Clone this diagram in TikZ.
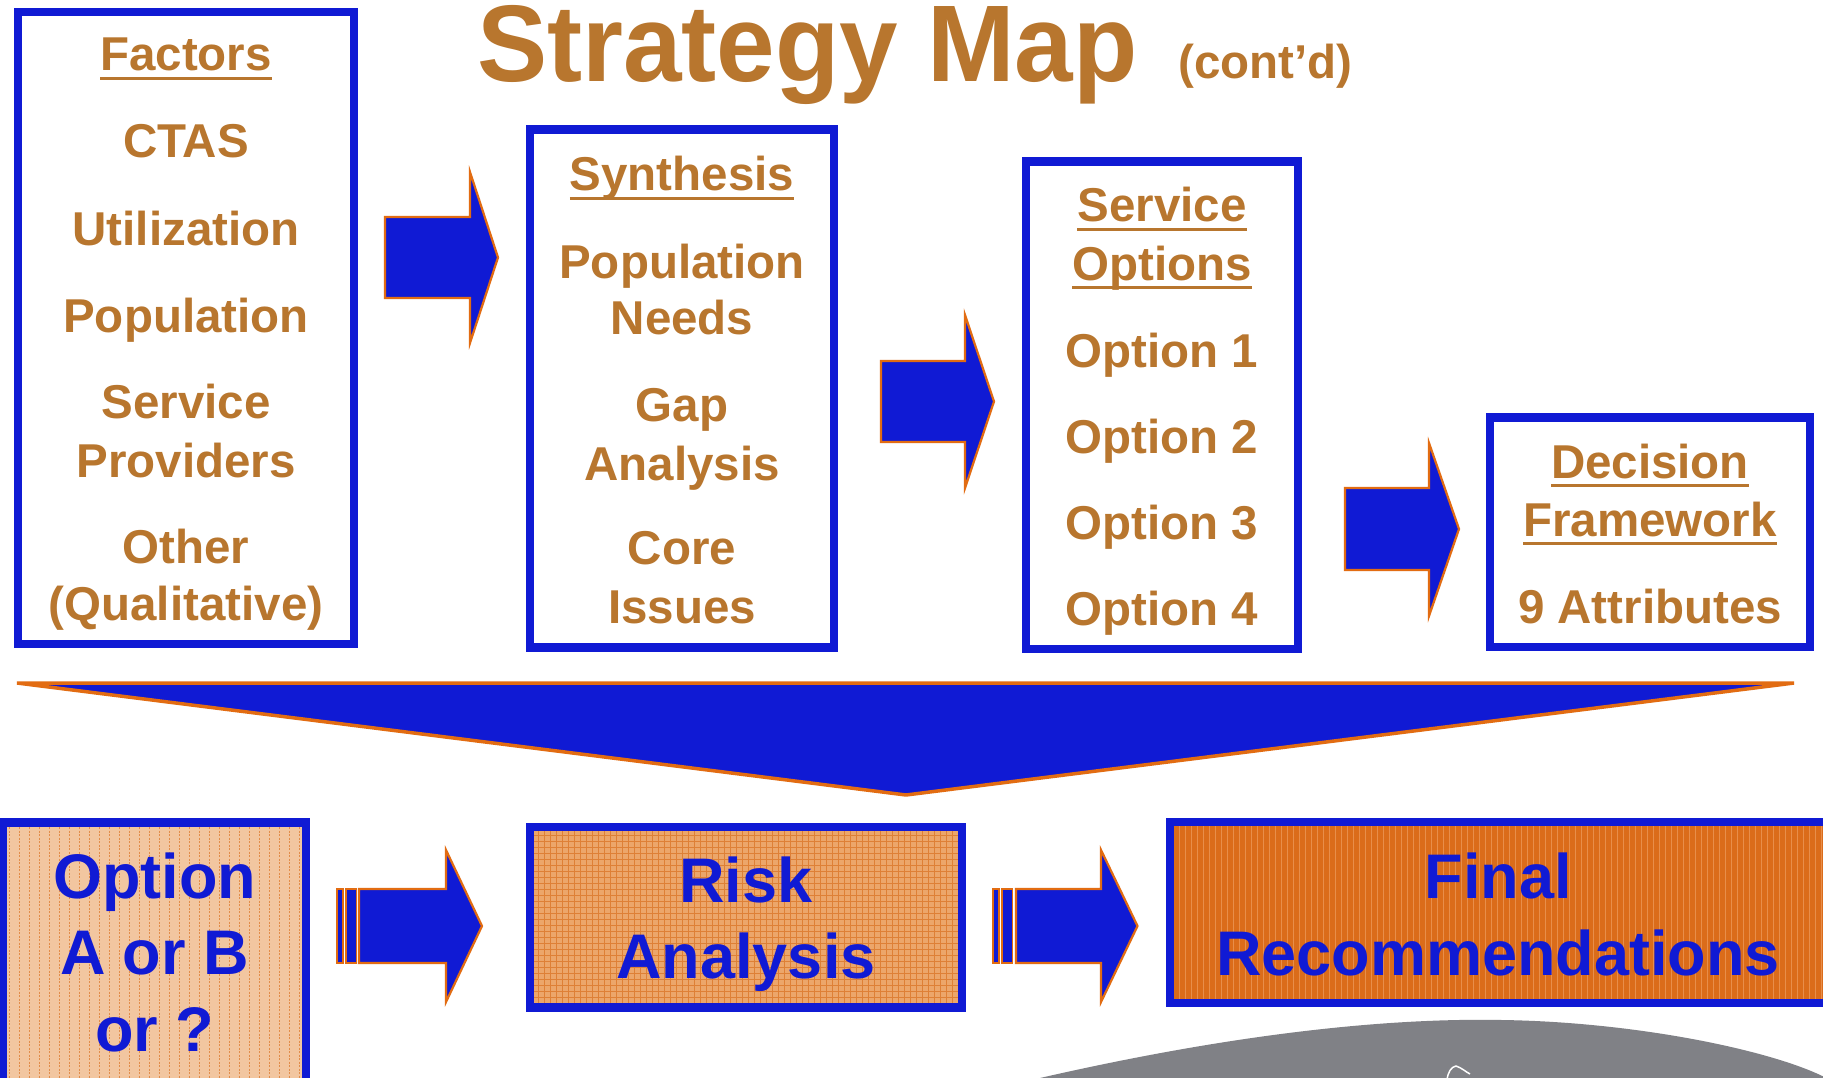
\documentclass[tikz,border=0pt]{standalone}
\usepackage{fontspec}
\setmainfont{Liberation Sans}
\definecolor{boxblue}{RGB}{16,26,212}
\definecolor{txtbrown}{RGB}{184,118,46}
\definecolor{arrorange}{RGB}{226,108,18}
\definecolor{peach}{RGB}{242,198,160}
\definecolor{peachline}{RGB}{226,140,72}
\definecolor{riskfill}{RGB}{236,166,106}
\definecolor{riskline}{RGB}{222,128,54}
\definecolor{finalfill}{RGB}{219,108,26}
\definecolor{finalline}{RGB}{232,142,74}
\definecolor{hillgray}{RGB}{128,129,134}
\begin{document}
\begin{tikzpicture}[x=1pt,y=-1pt,
  frame/.style={draw=boxblue,line width=8.5pt,inner sep=0pt,outer sep=0pt},
  item/.style={inner sep=0pt,outer sep=0pt,text=txtbrown,font=\fontsize{47.5}{57}\selectfont\bfseries,anchor=base},
  big/.style={inner sep=0pt,outer sep=0pt,text=boxblue,font=\fontsize{63}{76}\selectfont\bfseries,anchor=base},
  ul/.style={draw=txtbrown,line width=3.5pt},
  blockarrow/.style={fill=boxblue,draw=arrorange,line width=2.2pt,line join=miter},
  stripe/.style={fill=boxblue,draw=arrorange,line width=1.6pt},
]
\clip (0,0) rectangle (1823,1078);
\fill[white] (0,0) rectangle (1823,1078);

% title
\node[inner sep=0pt,anchor=base west,text=txtbrown,font=\fontsize{109}{120}\selectfont\bfseries] (title) at (477,82) {\scalebox{0.965}[1]{Strategy Map}};
\node[inner sep=0pt,anchor=base west,text=txtbrown,font=\fontsize{47.5}{56}\selectfont\bfseries] (contd) at (1178,79) {(cont’d)};

% top boxes
\node[frame,minimum width=336,minimum height=632] (factors) at (186,328) {};
\node[frame,minimum width=304,minimum height=518] (synth) at (682,388.5) {};
\node[frame,minimum width=272,minimum height=487.5] (servopt) at (1162,405.25) {};
\node[frame,minimum width=320,minimum height=229.5] (decision) at (1650,532.25) {};

% Factors texts
\node[item] (fa0) at (186,71) {Factors};
\draw[ul] ([yshift=-7.5pt]fa0.base west) -- ([yshift=-7.5pt]fa0.base east);
\node[item] (fa1) at (186,158) {CTAS};
\node[item] (fa2) at (186,245) {Utilization};
\node[item] (fa3) at (186,332) {Population};
\node[item] (fa4) at (186,418) {Service};
\node[item] (fa5) at (186,477) {Providers};
\node[item] (fa6) at (186,563) {Other};
\node[item] (fa7) at (186,620) {(Qualitative)};

% Synthesis texts
\node[item] (sy0) at (682,191) {Synthesis};
\draw[ul] ([yshift=-7.5pt]sy0.base west) -- ([yshift=-7.5pt]sy0.base east);
\node[item] (sy1) at (682,278) {Population};
\node[item] (sy2) at (682,334) {Needs};
\node[item] (sy3) at (682,421) {Gap};
\node[item] (sy4) at (682,480) {Analysis};
\node[item] (sy5) at (682,564) {Core};
\node[item] (sy6) at (682,623) {Issues};

% Service options texts
\node[item] (so0) at (1162,222) {Service};
\draw[ul] ([yshift=-7.5pt]so0.base west) -- ([yshift=-7.5pt]so0.base east);
\node[item] (so1) at (1162,280) {Options};
\draw[ul] ([yshift=-7.5pt]so1.base west) -- ([yshift=-7.5pt]so1.base east);
\node[item] (so2) at (1162,367) {Option 1};
\node[item] (so3) at (1162,453) {Option 2};
\node[item] (so4) at (1162,539) {Option 3};
\node[item] (so5) at (1162,625) {Option 4};

% Decision texts
\node[item] (de0) at (1650,478) {Decision};
\draw[ul] ([yshift=-7.5pt]de0.base west) -- ([yshift=-7.5pt]de0.base east);
\node[item] (de1) at (1650,536) {Framework};
\draw[ul] ([yshift=-7.5pt]de1.base west) -- ([yshift=-7.5pt]de1.base east);
\node[item] (de2) at (1650,623) {9 Attributes};

% top block arrows
\draw[blockarrow] (385,217) -- (470,217) -- (470,172) -- (498,257.5) -- (470,343) -- (470,298) -- (385,298) -- cycle;
\draw[blockarrow] (881,361) -- (965,361) -- (965,315) -- (994,401.5) -- (965,488) -- (965,442) -- (881,442) -- cycle;
\draw[blockarrow] (1345,488) -- (1429,488) -- (1429,443) -- (1459,529) -- (1429,616) -- (1429,570) -- (1345,570) -- cycle;

% big down triangle
\draw[fill=boxblue,draw=arrorange,line width=3.5pt,line join=bevel] (17,683) -- (1794,683) -- (906,795) -- cycle;

% bottom boxes
\node[fill=peach,minimum width=303,minimum height=277.5,inner sep=0pt,outer sep=0pt] (optab) at (154.5,961.25) {};
\begin{scope}
  \clip (0,822) rectangle (306,1078);
  \foreach \x in {9,19,...,299}
    \draw[peachline,line width=1pt,dash pattern=on 2pt off 1.5pt] (\x,820) -- (\x,1090);
\end{scope}
\draw[frame] (optab.north west) rectangle (optab.south east);

\node[fill=riskfill,minimum width=432,minimum height=180.5,inner sep=0pt,outer sep=0pt] (risk) at (746,917.25) {};
\begin{scope}
  \clip (risk.north west) rectangle (risk.south east);
  \foreach \x in {532,538,...,962}
    \draw[riskline,line width=0.6pt] (\x,820) -- (\x,1010);
  \foreach \y in {829,835,...,1007}
    \draw[riskline,line width=0.6pt] (525,\y) -- (965,\y);
\end{scope}
\draw[frame] (risk.north west) rectangle (risk.south east);

\node[fill=finalfill,minimum width=658,minimum height=181,inner sep=0pt,outer sep=0pt] (final) at (1499,912.5) {};
\begin{scope}
  \clip (final.north west) rectangle (final.south east);
  \foreach \x in {1173,1179,...,1829}
    \draw[finalline,line width=0.5pt] (\x,815) -- (\x,1010);
\end{scope}
\draw[frame] (final.north west) rectangle (final.south east);

% bottom texts
\node[big] (ob0) at (154.5,898) {Option};
\node[big] (ob1) at (154.5,974) {A or B};
\node[big] (ob2) at (154.5,1051) {or ?};
\node[big] (ri0) at (746,902) {Risk};
\node[big] (ri1) at (746,978) {Analysis};
\node[big] (fi0) at (1498,898) {Final};
\node[big] (fi1) at (1498,975) {Recommendations};

% bottom block arrows with stripes
\draw[stripe] (337,889) rectangle (343,963);
\draw[stripe] (346,889) rectangle (356.5,963);
\draw[blockarrow] (359,889) -- (446,889) -- (446,850) -- (482,926) -- (446,1002) -- (446,963) -- (359,963) -- cycle;
\draw[stripe] (993,889) rectangle (999,963);
\draw[stripe] (1002,889) rectangle (1012.5,963);
\draw[blockarrow] (1016,889) -- (1101,889) -- (1101,850) -- (1137.5,926) -- (1101,1002) -- (1101,963) -- (1016,963) -- cycle;

% gray hill at bottom right
\fill[hillgray] (1040,1078) .. controls (1250,1030) and (1400,1018) .. (1502,1020) .. controls (1640,1022) and (1780,1052) .. (1830,1080) -- (1830,1085) -- (1040,1085) -- cycle;
\draw[white,line width=1.5pt] (1447,1080) .. controls (1448,1072) and (1451,1067) .. (1456,1066) .. controls (1462,1068) and (1466,1072) .. (1470,1074);
\end{tikzpicture}
\end{document}
